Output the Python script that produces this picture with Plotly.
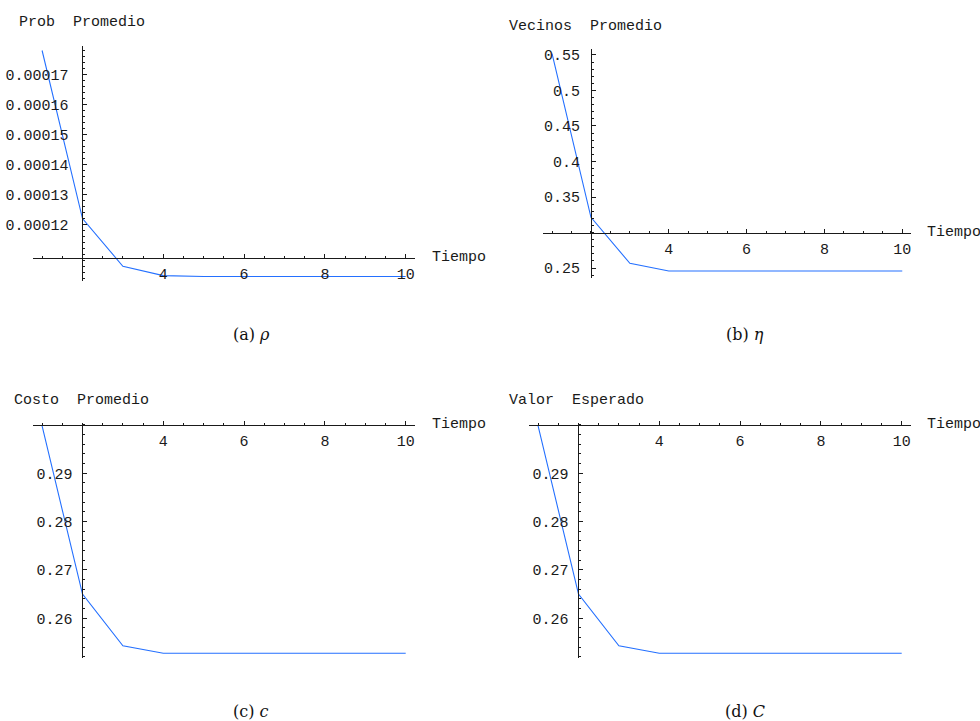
import numpy as np
import plotly.graph_objects as go

W, H = 980, 721

# ---------------- data ----------------
tiempo = [1, 2, 3, 4, 5, 6, 7, 8, 9, 10]
prob_promedio = [0.000178, 0.0001220, 0.0001061, 0.0001030, 0.0001027,
                 0.0001027, 0.0001027, 0.0001027, 0.0001027, 0.0001027]
vecinos_promedio = [0.552, 0.3214, 0.2566, 0.2458, 0.2458,
                    0.2458, 0.2458, 0.2458, 0.2458, 0.2458]
costo_promedio = [0.2998, 0.2650, 0.2543, 0.25275, 0.25275,
                  0.25275, 0.25275, 0.25275, 0.25275, 0.25275]
valor_esperado = [0.2998, 0.2650, 0.2543, 0.25275, 0.25275,
                  0.25275, 0.25275, 0.25275, 0.25275, 0.25275]

x_ticks = [4, 6, 8, 10]
a_ticks = [0.00012, 0.00013, 0.00014, 0.00015, 0.00016, 0.00017]
a_labels = ["0.00012", "0.00013", "0.00014", "0.00015", "0.00016", "0.00017"]
b_ticks = [0.25, 0.35, 0.4, 0.45, 0.5, 0.55]
b_labels = ["0.25", "0.35", "0.4", "0.45", "0.5", "0.55"]
c_ticks = [0.26, 0.27, 0.28, 0.29]
c_labels = ["0.26", "0.27", "0.28", "0.29"]

y_titles = ["Prob\u00a0 Promedio", "Vecinos\u00a0 Promedio",
            "Costo\u00a0 Promedio", "Valor\u00a0 Esperado"]
captions = ["(a) <i>ρ</i>", "(b) <i>η</i>", "(c) <i>c</i>", "(d) <i>C</i>"]

# ---------------- layout (pixel geometry) ----------------
x_range = [0.775, 10.225]
panels = [
    dict(y=prob_promedio, xpx=(33, 414.8), ypx=(45.7, 281.0),
         yr=(0.0001012, 0.0001796), cross=0.000109,
         yt=a_ticks, yl=a_labels, ymin_step=0.000002, ystand=11,
         title_px=(16.5, 23), tiempo_px=430, cap_px=(251, 334)),
    dict(y=vecinos_promedio, xpx=(543.3, 911.0), ypx=(49.3, 278.3),
         yr=(0.2355, 0.558), cross=0.3,
         yt=b_ticks, yl=b_labels, ymin_step=0.01, ystand=8,
         title_px=(506.5, 27), tiempo_px=925, cap_px=(745, 334)),
    dict(y=costo_promedio, xpx=(33, 414.8), ypx=(422.7, 658.3),
         yr=(0.25172, 0.30047), cross=0.3,
         yt=c_ticks, yl=c_labels, ymin_step=0.002, ystand=7,
         title_px=(11.5, 400.7), tiempo_px=430, cap_px=(251, 711)),
    dict(y=valor_esperado, xpx=(529, 910.8), ypx=(422.7, 658.3),
         yr=(0.25172, 0.30047), cross=0.3,
         yt=c_ticks, yl=c_labels, ymin_step=0.002, ystand=7,
         title_px=(506.5, 400.7), tiempo_px=925, cap_px=(745, 711)),
]

MONO = "Liberation Mono, DejaVu Sans Mono, monospace"
SERIF = "DejaVu Serif, Liberation Serif, serif"
AXC = "#1a1a1a"
LINEC = "#2470ff"
FS = 15

fig = go.Figure()
annotations = []
layout = dict(width=W, height=H, margin=dict(l=0, r=0, t=0, b=0),
              paper_bgcolor="white", plot_bgcolor="white", showlegend=False)

def px2x(p):
    return p / W

def px2y(p):
    return 1 - p / H

x_minor = list(np.arange(1.0, 10.01, 0.5))

for i, p in enumerate(panels):
    n = "" if i == 0 else str(i + 1)
    xd = [px2x(p["xpx"][0]), px2x(p["xpx"][1])]
    yd = [px2y(p["ypx"][1]), px2y(p["ypx"][0])]
    y0, y1 = p["yr"]
    # positions of crossing axes in paper coordinates
    ypos = yd[0] + (p["cross"] - y0) / (y1 - y0) * (yd[1] - yd[0])
    xpos = xd[0] + (2 - x_range[0]) / (x_range[1] - x_range[0]) * (xd[1] - xd[0])

    fig.add_trace(go.Scatter(x=tiempo, y=p["y"], mode="lines",
                             line=dict(color=LINEC, width=1.1),
                             xaxis="x" + n, yaxis="y" + n, hoverinfo="skip"))

    st = p["ymin_step"]
    k0 = int(np.ceil(y0 / st - 1e-9))
    k1 = int(np.floor(y1 / st + 1e-9))
    y_minor = [k * st for k in range(k0, k1 + 1)]

    layout["xaxis" + n] = dict(
        domain=xd, range=x_range, anchor="free", position=ypos,
        showgrid=False, zeroline=False, showline=True, linecolor=AXC, linewidth=1,
        tickmode="array", tickvals=x_ticks, ticktext=[str(v) for v in x_ticks],
        ticks="inside", ticklen=4, tickwidth=1, tickcolor=AXC,
        minor=dict(tickmode="array", tickvals=x_minor, ticks="inside",
                   ticklen=2, tickwidth=1, tickcolor=AXC),
        tickfont=dict(family=MONO, size=FS, color=AXC),
        ticklabelstandoff=2, fixedrange=True)
    layout["yaxis" + n] = dict(
        domain=yd, range=[y0, y1], anchor="free", position=xpos,
        showgrid=False, zeroline=False, showline=True, linecolor=AXC, linewidth=1,
        tickmode="array", tickvals=p["yt"], ticktext=p["yl"],
        ticks="inside", ticklen=4, tickwidth=1, tickcolor=AXC,
        minor=dict(tickmode="array", tickvals=y_minor, ticks="inside",
                   ticklen=2, tickwidth=1, tickcolor=AXC),
        tickfont=dict(family=MONO, size=FS, color=AXC),
        ticklabelstandoff=p["ystand"], fixedrange=True)

    tx, ty = p["title_px"]
    annotations.append(dict(text=y_titles[i], x=px2x(tx), y=px2y(ty),
                            xref="paper", yref="paper", xanchor="left",
                            yanchor="middle", showarrow=False,
                            font=dict(family=MONO, size=FS, color=AXC)))
    axis_px_y = (1 - ypos) * H
    annotations.append(dict(text="Tiempo", x=px2x(p["tiempo_px"]),
                            y=px2y(axis_px_y), xref="paper", yref="paper",
                            xanchor="left", yanchor="middle", showarrow=False,
                            font=dict(family=MONO, size=FS, color=AXC)))
    cx, cy = p["cap_px"]
    annotations.append(dict(text=captions[i], x=px2x(cx), y=px2y(cy),
                            xref="paper", yref="paper", xanchor="center",
                            yanchor="middle", showarrow=False,
                            font=dict(family=SERIF, size=16, color="#111")))

layout["annotations"] = annotations
fig.update_layout(**layout)
fig.write_html("out.html",
               config={"displayModeBar": False, "staticPlot": True},
               post_script="document.body.style.margin='0px';"
                           "document.body.style.overflow='hidden';")
